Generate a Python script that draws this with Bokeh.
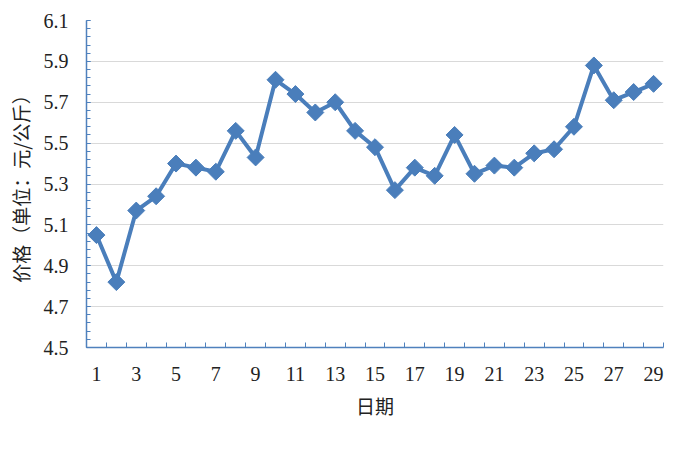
import numpy as np
from bokeh.plotting import figure
from bokeh.models import FixedTicker, Range1d
from bokeh.embed import file_html
from bokeh.resources import INLINE

# ---- data ----
days = list(range(1, 30))
prices = [5.05, 4.82, 5.17, 5.24, 5.40, 5.38, 5.36, 5.56, 5.43, 5.81,
          5.74, 5.65, 5.70, 5.56, 5.48, 5.27, 5.38, 5.34, 5.54, 5.35,
          5.39, 5.38, 5.45, 5.47, 5.58, 5.88, 5.71, 5.75, 5.79]
x_tick_values = [1, 3, 5, 7, 9, 11, 13, 15, 17, 19, 21, 23, 25, 27, 29]
y_tick_values = [4.5, 4.7, 4.9, 5.1, 5.3, 5.5, 5.7, 5.9, 6.1]
y_tick_labels = ["4.5", "4.7", "4.9", "5.1", "5.3", "5.5", "5.7", "5.9", "6.1"]
x_title = "日期"
y_title = "价格（单位：元/公斤）"

LINE = "#4a7ebb"
AXIS = "#4f81bd"
GRID = "#d9d9d9"

p = figure(width=667, height=438, output_backend="svg", toolbar_location=None,
           x_range=Range1d(0.5, 29.5), y_range=Range1d(4.5, 6.1),
           min_border_left=86, min_border_right=4,
           min_border_top=20, min_border_bottom=91)
p.outline_line_color = None
p.background_fill_color = "white"
p.border_fill_color = "white"

# x axis: labels at odd days, tick marks at category boundaries
x_minor = [d - 0.5 for d in days] + [days[-1] + 0.5]
p.xaxis.ticker = FixedTicker(ticks=x_tick_values, minor_ticks=x_minor)
p.xaxis.major_tick_in = 0
p.xaxis.major_tick_out = 0
p.xaxis.minor_tick_in = 5
p.xaxis.minor_tick_out = 0
p.xaxis.minor_tick_line_color = AXIS
p.xaxis.axis_line_color = AXIS
p.xaxis.axis_line_width = 1.5
p.xaxis.major_label_standoff = 19
p.xaxis.axis_label = x_title
p.xaxis.axis_label_standoff = 8

# y axis
y_minor = list(np.round(np.arange(4.5, 6.1001, 0.04), 2))
p.yaxis.ticker = FixedTicker(ticks=y_tick_values, minor_ticks=y_minor)
p.yaxis.major_label_overrides = {v: s for v, s in zip(y_tick_values, y_tick_labels)}
p.yaxis.major_tick_in = 4
p.yaxis.major_tick_out = 0
p.yaxis.minor_tick_in = 4
p.yaxis.minor_tick_out = 0
p.yaxis.major_tick_line_color = AXIS
p.yaxis.minor_tick_line_color = AXIS
p.yaxis.axis_line_color = AXIS
p.yaxis.axis_line_width = 1.5
p.yaxis.major_label_standoff = 18
p.yaxis.axis_label = y_title
p.yaxis.axis_label_standoff = 7

for ax in (p.xaxis, p.yaxis):
    ax.major_label_text_font = "Liberation Serif"
    ax.major_label_text_font_size = "20px"
    ax.major_label_text_color = "#222222"
    ax.axis_label_text_font = "Noto Sans CJK SC"
    ax.axis_label_text_font_size = "19px"
    ax.axis_label_text_font_style = "normal"
    ax.axis_label_text_color = "#222222"

p.xgrid.grid_line_color = None
p.ygrid.grid_line_color = GRID
p.ygrid.grid_line_width = 1

p.line(days, prices, line_color=LINE, line_width=4)
p.scatter(days, prices, marker="square", size=12, angle=np.pi / 4,
          fill_color=LINE, line_color=LINE, line_width=1)

open("out.html", "w").write(file_html(p, INLINE))
